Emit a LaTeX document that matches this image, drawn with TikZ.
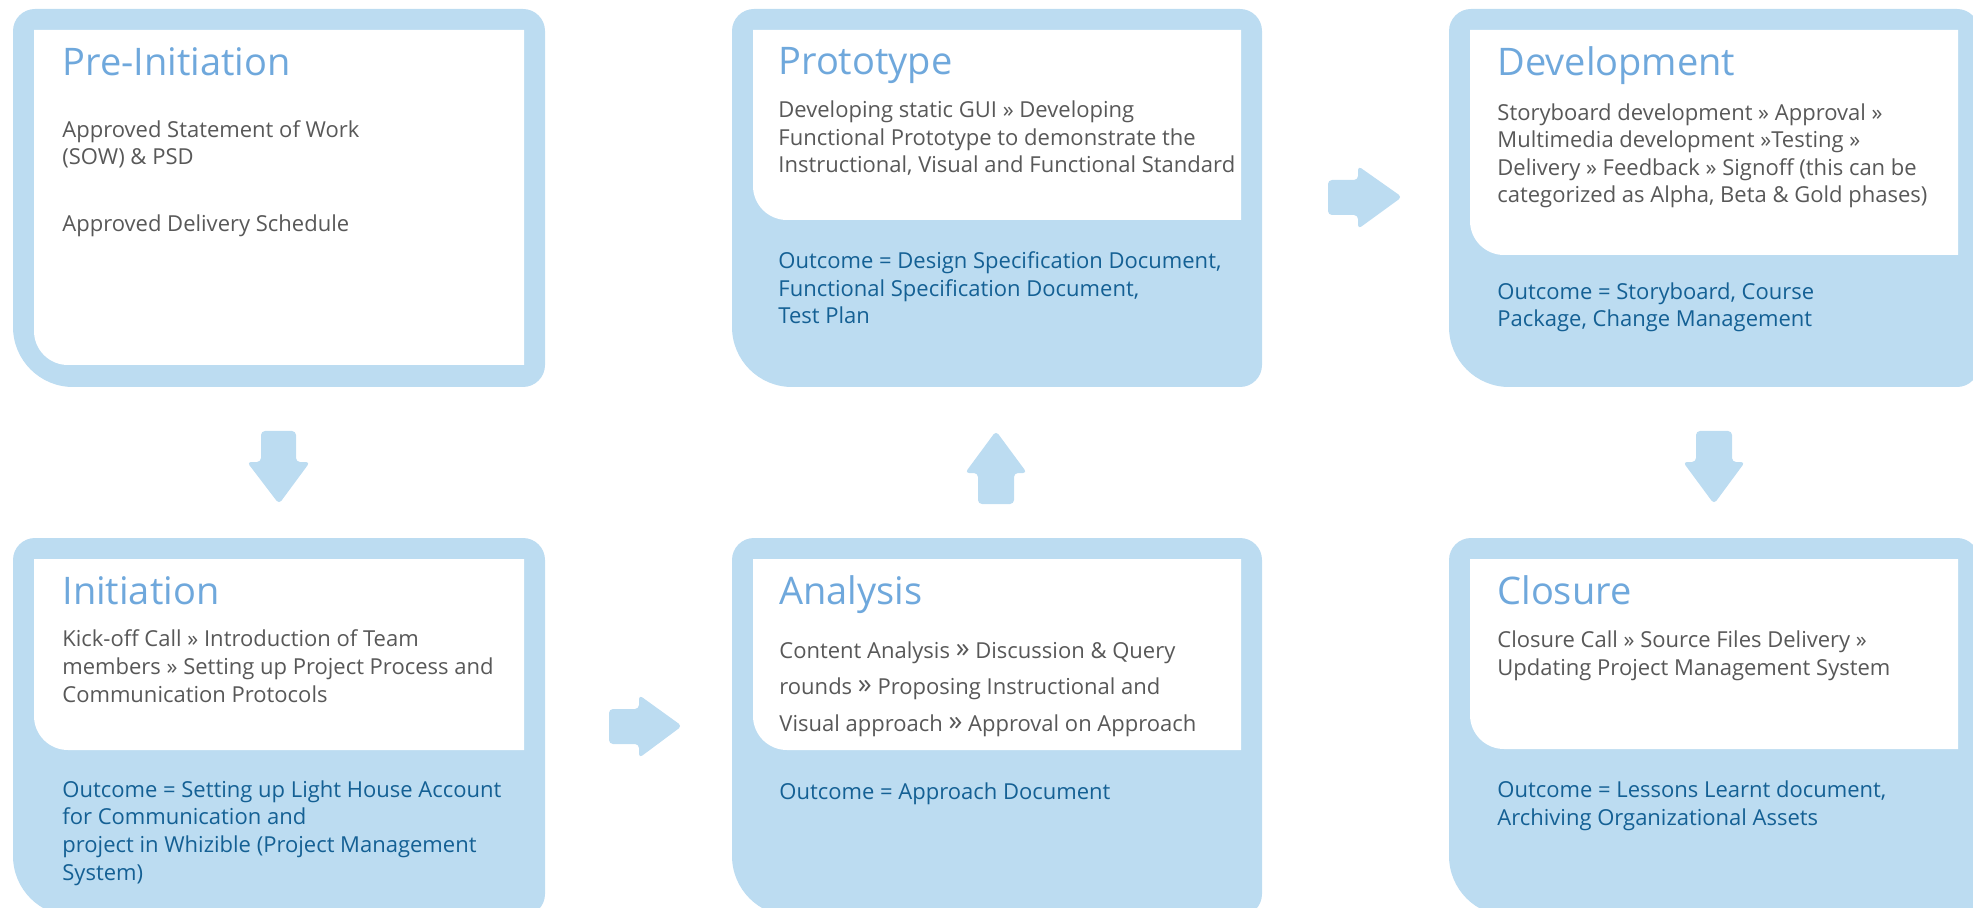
\documentclass[tikz,border=0pt]{standalone}
\usepackage{fontspec}
\setmainfont{Open Sans}
\definecolor{boxfill}{RGB}{188,220,241}
\definecolor{titleblue}{RGB}{111,168,220}
\definecolor{bodygray}{RGB}{88,88,88}
\definecolor{outblue}{RGB}{20,96,148}
\newcommand\phaseouter[4]{%
  \fill[boxfill] (#1+22,#2) -- (#3-22,#2) arc[start angle=90,end angle=0,radius=11pt]
    -- (#3,#4-22) arc[start angle=0,end angle=-90,radius=11pt]
    -- (#1+60,#4) arc[start angle=-90,end angle=-180,radius=30pt]
    -- (#1,#2+22) arc[start angle=180,end angle=90,radius=11pt] -- cycle;}
\newcommand\phaseinner[4]{%
  \fill[white] (#1,#2) -- (#3,#2) -- (#3,#4) -- (#1+34,#4)
    arc[start angle=-90,end angle=-180,radius=17pt] -- cycle;}
\newcommand\bigq{\raisebox{0.5pt}{\fontsize{14pt}{14pt}\selectfont »}}
\tikzset{
  ttl/.style={anchor=base west, inner sep=0pt, font=\fontsize{19pt}{22pt}\selectfont, text=titleblue},
  bodytxt/.style={anchor=base west, inner sep=0pt, align=left, font=\fontsize{11pt}{13.8pt}\selectfont, text=bodygray},
  outtxt/.style={bodytxt, text=outblue},
  blockarrow/.style={fill=boxfill, rounded corners=2pt},
}
\begin{document}
\begin{tikzpicture}[x=0.5pt,y=-0.5pt]
\useasboundingbox (0,0) rectangle (1973,908);
\clip (0,0) rectangle (1973,908);
% boxes
\phaseouter{13}{9}{545}{387}
\phaseinner{34}{30}{524}{365}
\phaseouter{732}{9}{1262}{387}
\phaseinner{753}{30}{1241}{220}
\phaseouter{1449}{9}{1979}{387}
\phaseinner{1470}{30}{1958}{255}
\phaseouter{13}{538}{545}{916}
\phaseinner{34}{559}{524}{750}
\phaseouter{732}{538}{1262}{916}
\phaseinner{753}{559}{1241}{750}
\phaseouter{1449}{538}{1979}{916}
\phaseinner{1470}{559}{1958}{749}
% arrows
\fill[blockarrow] (261,431) -- (296,431) -- (296,462) -- (310,462) -- (279,504) -- (247,462) -- (261,462) -- cycle;
\fill[blockarrow] (609,709) -- (639,709) -- (639,695) -- (682,726) -- (639,758) -- (639,744) -- (609,744) -- cycle;
\fill[blockarrow] (978,504) -- (978,473) -- (965,473) -- (996,431) -- (1027,473) -- (1014,473) -- (1014,504) -- cycle;
\fill[blockarrow] (1328,180) -- (1358,180) -- (1358,166) -- (1402,197) -- (1358,229) -- (1358,215) -- (1328,215) -- cycle;
\fill[blockarrow] (1696,431) -- (1732,431) -- (1732,462) -- (1745,462) -- (1714,504) -- (1683,462) -- (1696,462) -- cycle;
% texts (multi-line nodes are anchored at the baseline of their last line)
\node[ttl] (preT) at (62,76) {Pre-Initiation};
\node[bodytxt] (preB) at (62,165) {Approved Statement of Work\\(SOW) \& PSD};
\node[bodytxt] (preB2) at (62,232) {Approved Delivery Schedule};

\node[ttl] (protT) at (778,75) {Prototype};
\node[bodytxt] (protB) at (778,173) {Developing static GUI » Developing\\Functional Prototype to demonstrate the\\Instructional, Visual and Functional Standard};
\node[outtxt] (protO) at (778,324) {Outcome = Design Specification Document,\\Functional Specification Document,\\Test Plan};

\node[ttl] (devT) at (1497,76) {Development};
\node[bodytxt] (devB) at (1497,203) {Storyboard development » Approval »\\Multimedia development »Testing »\\Delivery » Feedback » Signoff (this can be\\categorized as Alpha, Beta \& Gold phases)};
\node[outtxt] (devO) at (1497,327) {Outcome = Storyboard, Course\\Package, Change Management};

\node[ttl] (iniT) at (62,604) {Initiation};
\node[bodytxt] (iniB) at (62,702) {Kick-off Call » Introduction of Team\\members » Setting up Project Process and\\Communication Protocols};
\node[outtxt] (iniO) at (62,880) {Outcome = Setting up Light House Account\\for Communication and\\project in Whizible (Project Management\\System)};

\node[ttl] (anaT) at (779,604) {Analysis};
\node[bodytxt, font=\fontsize{11pt}{18.25pt}\selectfont] (anaB) at (779,731) {Content Analysis \bigq{} Discussion \& Query\\rounds \bigq{} Proposing Instructional and\\Visual approach \bigq{} Approval on Approach};
\node[outtxt] (anaO) at (779,799) {Outcome = Approach Document};

\node[ttl] (cloT) at (1497,604) {Closure};
\node[bodytxt] (cloB) at (1497,675) {Closure Call » Source Files Delivery »\\Updating Project Management System};
\node[outtxt] (cloO) at (1497,825) {Outcome = Lessons Learnt document,\\Archiving Organizational Assets};
\end{tikzpicture}
\end{document}
